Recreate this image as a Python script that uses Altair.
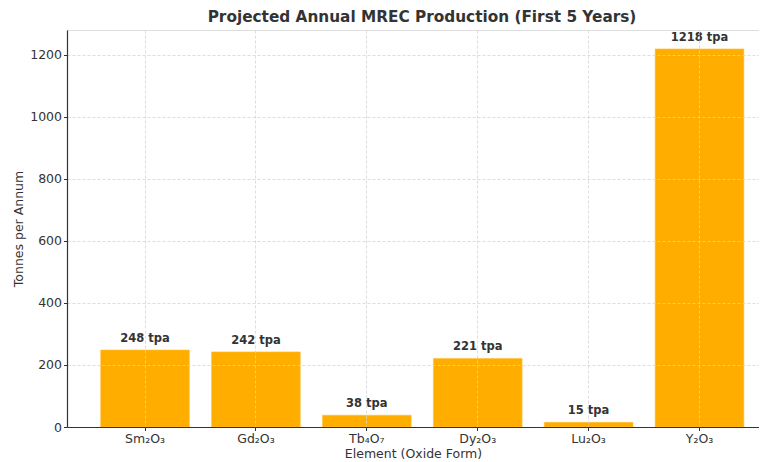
import altair as alt
import pandas as pd

elements = ["Sm₂O₃", "Gd₂O₃", "Tb₄O₇", "Dy₂O₃", "Lu₂O₃", "Y₂O₃"]
tonnes = [248, 242, 38, 221, 15, 1218]
labels = [f"{v} tpa" for v in tonnes]

df = pd.DataFrame({"element": elements, "tonnes": tonnes, "label": labels})

FONT = "DejaVu Sans"
TXT = "#333333"

x = alt.X(
    "element:N",
    sort=elements,
    scale=alt.Scale(paddingInner=0.2, paddingOuter=0.22, align=0.69),
    axis=alt.Axis(
        title="Element (Oxide Form)",
        labelAngle=0,
        grid=True,
        bandPosition=0.5,
        gridDash=[3, 2],
        gridColor="#d4d4d4",
        gridWidth=0.8,
        tickSize=3.5,
        tickColor=TXT,
        tickWidth=1,
        domainColor=TXT,
        domainWidth=1.2,
        labelColor=TXT,
        labelFont=FONT,
        labelFontSize=12.5,
        labelPadding=1.5,
        titleFont=FONT,
        titleFontSize=12.5,
        titleFontWeight="normal",
        titleColor=TXT,
        titleY=26,
        titleBaseline="middle",
        zindex=1,
    ),
)

y = alt.Y(
    "tonnes:Q",
    scale=alt.Scale(domain=[0, 1279], nice=False, zero=True),
    axis=alt.Axis(
        title="Tonnes per Annum",
        values=[0, 200, 400, 600, 800, 1000, 1200],
        format="d",
        grid=True,
        gridDash=[3, 2],
        gridColor="#d4d4d4",
        gridWidth=0.8,
        tickSize=3.5,
        tickColor=TXT,
        domainColor=TXT,
        domainWidth=1.2,
        labelColor=TXT,
        labelFont=FONT,
        labelFontSize=12.5,
        labelPadding=2,
        titleFont=FONT,
        titleFontSize=12.5,
        titleFontWeight="normal",
        titleColor=TXT,
        titleX=-49,
        titleBaseline="middle",
        zindex=1,
    ),
)

bars = alt.Chart(df).mark_bar(color="#FFAE00", stroke="#FFC040", strokeWidth=0.6).encode(x=x, y=y)

text = alt.Chart(df).mark_text(
    font=FONT, fontSize=11.5, fontWeight="bold", color=TXT, baseline="alphabetic", dy=-8
).encode(x=alt.X("element:N", sort=elements), y="tonnes:Q", text="label:N")

chart = (
    alt.layer(bars, text)
    .properties(
        width=692,
        height=397,
        padding={"left": 59, "top": 22, "right": 0, "bottom": 35},
        autosize=alt.AutoSizeParams(type="none"),
        title=alt.TitleParams(
            "Projected Annual MREC Production (First 5 Years)",
            font=FONT,
            fontSize=15.3,
            fontWeight="bold",
            color=TXT,
            anchor="middle",
            frame="group",
            baseline="alphabetic",
            offset=-7,
            dx=9,
        ),
    )
    .configure_view(stroke=None)
    .configure(background="white")
)

chart.save("out.html", embed_options={"renderer": "svg", "actions": False})
